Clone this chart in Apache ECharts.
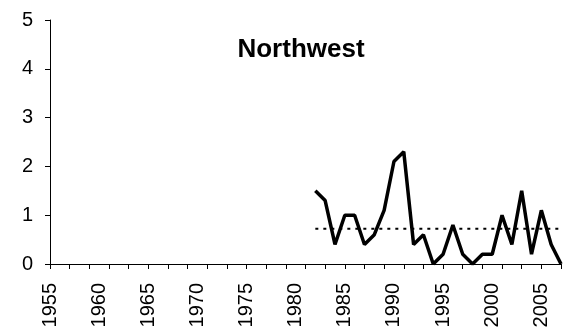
<!DOCTYPE html>
<html>
<head>
<meta charset="utf-8">
<script src="https://cdn.jsdelivr.net/npm/echarts@6/dist/echarts.min.js"></script>
<style>
  html, body { margin: 0; padding: 0; background: #fff; }
  #chart { width: 571px; height: 336px; }
</style>
</head>
<body>
<div id="chart"></div>
<script>
// years shown on the axis
const years = []
for (let y = 1955; y <= 2007; y++) years.push(String(y))

// observed record, 1982-2007
const obsYears = ['1982', '1983', '1984', '1985', '1986', '1987', '1988', '1989', '1990', '1991',
    '1992', '1993', '1994', '1995', '1996', '1997', '1998', '1999', '2000', '2001',
    '2002', '2003', '2004', '2005', '2006', '2007']
const obsValues = [1.5, 1.3, 0.4, 1.0, 1.0, 0.4, 0.6, 1.1, 2.1, 2.3,
    0.4, 0.6, 0.0, 0.2, 0.8, 0.2, 0.0, 0.2, 0.2, 1.0,
    0.4, 1.5, 0.2, 1.1, 0.4, 0.0]
// average level (dotted)
const meanValues = [0.72, 0.72, 0.72, 0.72, 0.72, 0.72, 0.72, 0.72, 0.72, 0.72,
    0.72, 0.72, 0.72, 0.72, 0.72, 0.72, 0.72, 0.72, 0.72, 0.72,
    0.72, 0.72, 0.72, 0.72, 0.72, 0.72]

const obsData = obsYears.map((y, i) => [y, obsValues[i]])
const meanData = obsYears.map((y, i) => [y, meanValues[i]])

const font = 'Liberation Sans, Arial, sans-serif'
let option = {
    animation: false,
    title: {
        text: 'Northwest',
        left: 296,
        top: 32,
        textAlign: 'center',
        textStyle: { fontFamily: font, fontSize: 26, fontWeight: 'bold', color: '#000' }
    },
    grid: { left: 50, right: 10, top: 20, bottom: 72 },
    xAxis: {
        type: 'category',
        data: years,
        boundaryGap: false,
        axisLine: { lineStyle: { color: '#000', width: 1 } },
        axisTick: { interval: 1, length: 5, lineStyle: { color: '#000' } },
        axisLabel: {
            interval: 4,
            rotate: 90,
            margin: 19,
            color: '#000',
            fontFamily: font,
            fontSize: 20,
            padding: [10, 0, 0, 0]
        },
        splitLine: { show: false }
    },
    yAxis: {
        type: 'value',
        min: 0,
        max: 5,
        interval: 1,
        axisLine: { show: true, lineStyle: { color: '#000', width: 1 } },
        axisTick: { show: true, length: 5, lineStyle: { color: '#000' } },
        axisLabel: { color: '#000', fontFamily: font, fontSize: 20, margin: 17 },
        splitLine: { show: false }
    },
    series: [
        {
            type: 'line',
            data: obsData,
            symbol: 'none',
            lineStyle: { color: '#000', width: 3.5 },
            z: 3
        },
        {
            type: 'line',
            data: meanData,
            symbol: 'none',
            lineStyle: { color: '#000', width: 2, type: [3, 5] },
            z: 2
        }
    ]
}
var myChart = echarts.init(document.getElementById('chart'))
myChart.setOption(option)
</script>
</body>
</html>
